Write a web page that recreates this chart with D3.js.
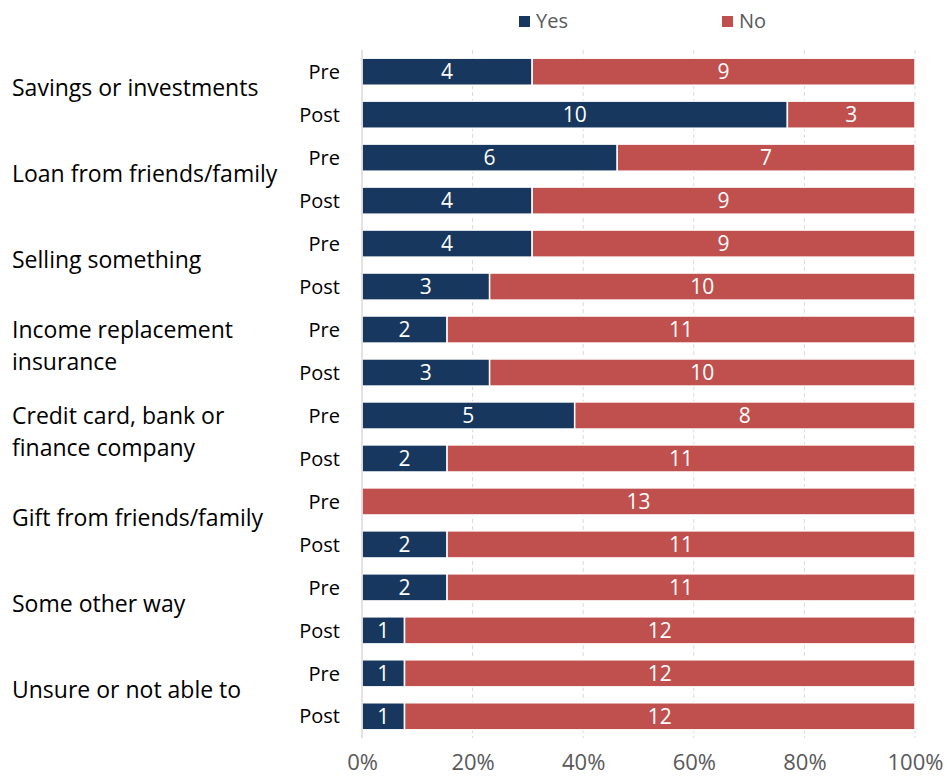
<!DOCTYPE html>
<html>
<head>
<meta charset="utf-8">
<script src="https://cdn.jsdelivr.net/npm/d3@7"></script>
<style>
  html, body { margin: 0; padding: 0; background: #fff; }
  svg text { font-family: "Open Sans", Lato, sans-serif; }
</style>
</head>
<body>
<svg id="chart" width="948" height="780"></svg>
<script>
// Ways of covering an unexpected expense, before and after
const categories = [
  ["Savings or investments"],
  ["Loan from friends/family"],
  ["Selling something"],
  ["Income replacement", "insurance"],
  ["Credit card, bank or", "finance company"],
  ["Gift from friends/family"],
  ["Some other way"],
  ["Unsure or not able to"]
];
const phases = ["Pre", "Post"];
const yesCounts = [4, 10, 6, 4, 4, 3, 2, 3, 5, 2, 0, 2, 2, 1, 1, 1];
const noCounts  = [9, 3, 7, 9, 9, 10, 11, 10, 8, 11, 13, 11, 11, 12, 12, 12];
const seriesNames = ["Yes", "No"];
const seriesColors = ["#17375E", "#C0504D"];
const tickValues = [0, 0.2, 0.4, 0.6, 0.8, 1];

const rows = [];
categories.forEach((c, ci) => phases.forEach((p, pi) => {
  const i = ci * 2 + pi;
  rows.push({ key: i, cat: ci, phase: p, Yes: yesCounts[i], No: noCounts[i] });
}));

const svg = d3.select("#chart");
const margin = { left: 362, right: 33, top: 50, bottom: 42 };
const W = 948, H = 780;

const x = d3.scaleLinear().domain([0, 1]).range([margin.left, W - margin.right]);
const y = d3.scaleBand().domain(rows.map(r => r.key))
  .range([margin.top, H - margin.bottom]).paddingInner(0.37).paddingOuter(0.19);

// vertical dashed gridlines
svg.append("g").selectAll("line").data(tickValues.slice(1)).join("line")
  .attr("x1", d => x(d)).attr("x2", d => x(d))
  .attr("y1", margin.top).attr("y2", H - margin.bottom)
  .attr("stroke", "#D9D9D9").attr("stroke-width", 1)
  .attr("stroke-dasharray", "4,3");

// stacked (100%) bars
const stack = d3.stack().keys(seriesNames)
  .value((r, k) => r[k] / (r.Yes + r.No));
const layers = stack(rows);

const g = svg.append("g");
layers.forEach((layer, li) => {
  const lg = g.append("g");
  lg.selectAll("rect").data(layer).join("rect")
    .attr("x", d => x(d[0]))
    .attr("y", d => y(d.data.key))
    .attr("width", d => Math.max(0, x(d[1]) - x(d[0])))
    .attr("height", y.bandwidth())
    .attr("fill", seriesColors[li])
    .attr("stroke", "#fff").attr("stroke-width", 1.5);
  lg.selectAll("text").data(layer.filter(d => d.data[seriesNames[li]] > 0)).join("text")
    .attr("x", d => (x(d[0]) + x(d[1])) / 2)
    .attr("y", d => y(d.data.key) + y.bandwidth() / 2)
    .attr("dy", "0.36em")
    .attr("text-anchor", "middle")
    .attr("fill", "#fff")
    .attr("font-size", 21)
    .text(d => d.data[seriesNames[li]]);
});

// 0% axis line
svg.append("line")
  .attr("x1", x(0)).attr("x2", x(0))
  .attr("y1", margin.top).attr("y2", H - margin.bottom)
  .attr("stroke", "#D9D9D9").attr("stroke-width", 1.5);

// bottom axis tick labels
const xAxis = d3.axisBottom(x).tickValues(tickValues).tickFormat(d3.format(".0%")).tickSize(0).tickPadding(0);
const ax = svg.append("g").attr("transform", `translate(0, ${H - 10})`).call(xAxis);
ax.select(".domain").remove();
ax.selectAll("text").attr("font-size", 22).attr("fill", "#595959")
  .attr("font-family", "'Open Sans', Lato, sans-serif").attr("dy", "0").attr("y", 0);

// Pre / Post labels
svg.append("g").selectAll("text").data(rows).join("text")
  .attr("x", 340)
  .attr("y", r => y(r.key) + y.bandwidth() / 2)
  .attr("dy", "0.36em")
  .attr("text-anchor", "end")
  .attr("font-size", 20)
  .attr("fill", "#000")
  .text(r => r.phase);

// category labels
const lineH = 32;
svg.append("g").selectAll("text").data(categories).join("text")
  .attr("x", 12)
  .attr("y", (c, ci) => {
    const mid = (y(ci * 2) + y(ci * 2 + 1) + y.bandwidth()) / 2 - 5;
    return mid - (c.length - 1) * lineH / 2;
  })
  .attr("font-size", 23)
  .attr("fill", "#000")
  .each(function (c) {
    d3.select(this).selectAll("tspan").data(c).join("tspan")
      .attr("x", 12)
      .attr("dy", (t, i) => i === 0 ? "0.36em" : lineH)
      .text(t => t);
  });

// legend
const legend = svg.append("g");
const legendX = [519, 722];
seriesNames.forEach((s, i) => {
  legend.append("rect").attr("x", legendX[i]).attr("y", 16).attr("width", 11).attr("height", 11)
    .attr("fill", seriesColors[i]);
  legend.append("text").attr("x", legendX[i] + 17).attr("y", 21).attr("dy", "0.36em")
    .attr("font-size", 20).attr("fill", "#595959").text(s);
});
</script>
</body>
</html>
